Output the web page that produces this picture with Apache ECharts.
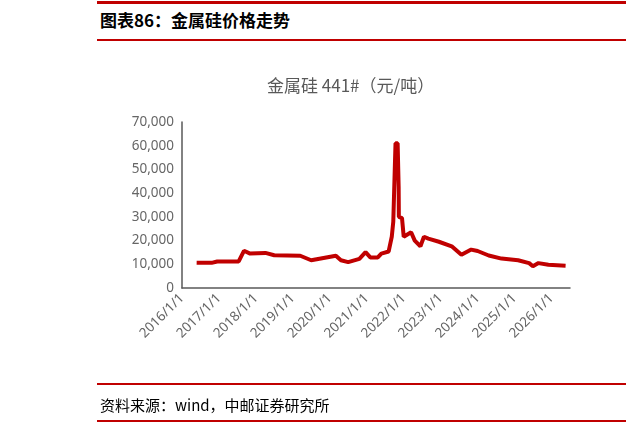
<html>
<head>
<meta charset="UTF-8">
<script src="https://cdn.jsdelivr.net/npm/echarts@6/dist/echarts.min.js"></script>
<style>
body{margin:0;background:#fff;font-family:"Noto Sans CJK SC";}
.hd{position:absolute;left:97px;width:529px;height:2px;background:#c00000;}
.txt{position:absolute;left:100px;color:#000;}
</style>
</head>
<body>
<div class="hd" style="top:1px;height:3px"></div>
<div class="txt" style="top:7px;font-size:17px;font-weight:bold">图表86：金属硅价格走势</div>
<div class="hd" style="top:39px;height:1.5px"></div>
<div id="chart" style="position:absolute;left:0;top:0;width:626px;height:426px"></div>
<div class="hd" style="top:383px;height:1.5px"></div>
<div class="txt" style="top:394px;font-size:15px">资料来源：wind，中邮证券研究所</div>
<div class="hd" style="top:420px;height:2px"></div>
<script>
var dates = ['2016-05-25','2016-10-20','2016-12-15','2017-07-15','2017-09-05','2017-11-05','2018-04-05',
  '2018-07-01','2019-03-15','2019-07-01','2020-03-01','2020-04-20','2020-07-01','2020-10-20','2020-12-20',
  '2021-02-05','2021-04-20','2021-05-25','2021-08-05','2021-09-05','2021-09-20','2021-10-12','2021-11-02',
  '2021-11-12','2021-11-14','2021-12-15','2022-01-01','2022-03-15','2022-04-20','2022-06-15','2022-07-20',
  '2022-09-01','2022-12-15','2023-04-20','2023-07-25','2023-10-30','2024-01-01','2024-04-20','2024-08-25',
  '2025-02-05','2025-05-25','2025-07-01','2025-08-25','2025-12-01','2026-05-20'];
var prices = [10700,10600,11200,11200,15700,14500,14800,13800,13600,11700,13600,11700,10900,12300,15100,
  12900,12900,14500,15400,21600,28000,61000,61000,42700,30000,29500,21600,23500,20000,17600,21600,
  20800,19500,17600,14000,16200,15600,13700,12400,11700,10500,9200,10500,9800,9400];

// date string -> fractional year, so ticks fall exactly on each 1/1
function toYear(s) {
  var d = new Date(s), y = d.getFullYear();
  var a = Date.UTC(y, 0, 1), b = Date.UTC(y + 1, 0, 1);
  return y + (d.getTime() - a) / (b - a);
}

var chart = echarts.init(document.getElementById('chart'));
chart.setOption({
  animation: false,
  title: {text: '金属硅 441#（元/吨）', left: 262, top: 72,
    textStyle: {fontSize: 17, fontWeight: 'normal', color: '#595959', fontFamily: 'Noto Sans CJK SC'}},
  grid: {left: 182, top: 122, right: 56, bottom: 138},
  xAxis: {
    type: 'value', min: 2016, max: 2026.5, interval: 1,
    axisLine: {lineStyle: {color: '#595959', width: 1.5}},
    axisTick: {show: false},
    splitLine: {show: false},
    axisLabel: {rotate: 45, color: '#666', fontSize: 13.5, fontFamily: 'Noto Sans', showMaxLabel: false,
      formatter: function (v) { return v + '/1/1'; }}
  },
  yAxis: {
    type: 'value', min: 0, max: 70000, interval: 10000,
    axisLine: {show: true, lineStyle: {color: '#595959', width: 1.5}},
    axisTick: {show: false},
    splitLine: {show: false},
    axisLabel: {color: '#666', fontSize: 13.5, fontFamily: 'Noto Sans',
      formatter: function (v) { return v.toLocaleString('en-US'); }}
  },
  series: [{
    type: 'line', showSymbol: false,
    lineStyle: {color: '#c00000', width: 4},
    data: dates.map(function (d, i) { return [toYear(d), prices[i]]; })
  }]
});
</script>
</body>
</html>
